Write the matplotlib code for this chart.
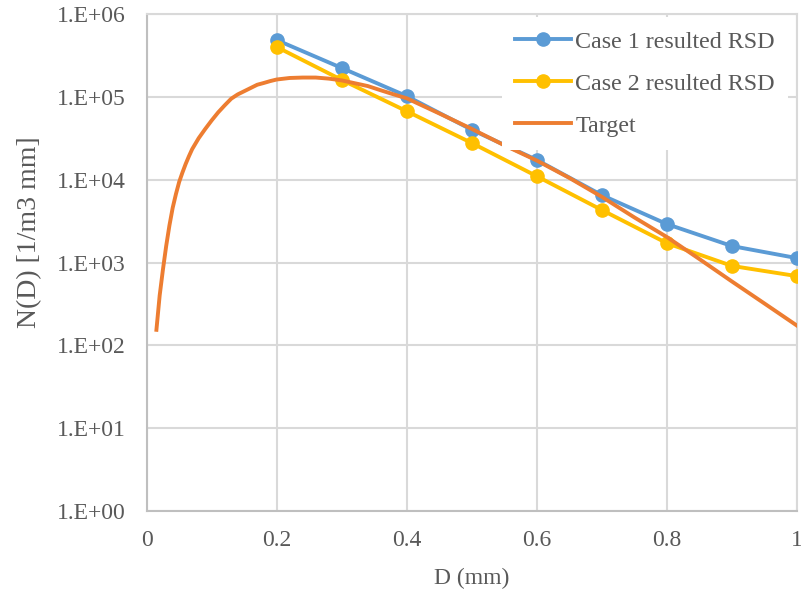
"""Resulted RSD of two cases against the target drop size distribution."""

import matplotlib

matplotlib.use("Agg")
import matplotlib.pyplot as plt
import numpy as np
from matplotlib.ticker import FixedLocator, FuncFormatter

# diameters of the two retrieved RSDs (mm)
d_case = [0.2, 0.3, 0.4, 0.5, 0.6, 0.7, 0.8, 0.9, 1.0]
n_case1 = [4.85e5, 2.23e5, 1.02e5, 4.0e4, 1.73e4, 6.5e3, 2.91e3, 1.58e3, 1.13e3]
n_case2 = [4.0e5, 1.6e5, 6.7e4, 2.77e4, 1.1e4, 4.3e3, 1.71e3, 9.1e2, 6.85e2]

# target distribution
d_target = [0.015, 0.02, 0.025, 0.03, 0.035, 0.04, 0.045, 0.05, 0.055, 0.06, 0.065,
            0.07, 0.08, 0.09, 0.10, 0.11, 0.12, 0.13, 0.14, 0.15, 0.16, 0.17,
            0.18, 0.19, 0.20, 0.22, 0.24, 0.26, 0.28, 0.30, 0.32, 0.34, 0.36,
            0.38, 0.40, 0.45, 0.50, 0.55, 0.60, 0.65, 0.70, 0.75, 0.80, 0.85,
            0.90, 0.95, 1.00]
n_target = [154, 400, 820, 1.58e3, 2.8e3, 4.57e3, 6.7e3, 9.4e3, 1.22e4, 1.55e4, 1.92e4,
            2.34e4, 3.17e4, 4.09e4, 5.2e4, 6.5e4, 7.9e4, 9.5e4, 1.07e5, 1.17e5, 1.28e5, 1.4e5,
            1.47e5, 1.55e5, 1.62e5, 1.69e5, 1.71e5, 1.71e5, 1.66e5, 1.58e5, 1.46e5, 1.35e5, 1.2e5,
            1.07e5, 9.6e4, 6.3e4, 4.1e4, 2.6e4, 1.7e4, 1.05e4, 6.2e3, 3.5e3, 2.03e3, 1.1e3,
            590, 320, 173]

x_ticks = [0, 0.2, 0.4, 0.6, 0.8, 1.0]
y_ticks = [1e0, 1e1, 1e2, 1e3, 1e4, 1e5, 1e6]

BLUE, YELLOW, ORANGE = "#5B9BD5", "#FFC000", "#ED7D31"
TEXT, GRID = "#595959", "#D9D9D9"

plt.rcParams["font.family"] = ["Liberation Serif", "DejaVu Serif"]

fig = plt.figure(figsize=(8.01, 5.94), dpi=100)
ax = fig.add_axes([0.1831, 0.1397, 0.8119, 0.8367])

ax.plot(d_case, n_case1, color=BLUE, lw=2.8, marker="o", ms=9.5, label="Case 1 resulted RSD", zorder=3)
ax.plot(d_case, n_case2, color=YELLOW, lw=2.8, marker="o", ms=9.5, label="Case 2 resulted RSD", zorder=3)
ax.plot(d_target, n_target, color=ORANGE, lw=2.8, label="Target", zorder=4)

ax.set_yscale("log")
ax.set_xlim(0, 1)
ax.set_ylim(1, 1e6)
ax.xaxis.set_major_locator(FixedLocator(x_ticks))
ax.yaxis.set_major_locator(FixedLocator(y_ticks))
ax.yaxis.set_minor_locator(FixedLocator([]))
ax.xaxis.set_major_formatter(FuncFormatter(lambda v, _: f"{v:g}"))
ax.yaxis.set_major_formatter(FuncFormatter(lambda v, _: f"1.E+{int(round(np.log10(v))):02d}"))

ax.grid(True, color=GRID, lw=1.5, zorder=0)
ax.set_axisbelow(True)
for side, spine in ax.spines.items():
    spine.set_color("#BFBFBF" if side in ("left", "bottom") else GRID)
    spine.set_linewidth(1.5)
ax.tick_params(length=0, labelsize=17, labelcolor=TEXT)
ax.tick_params(axis="y", pad=15)
ax.tick_params(axis="x", pad=14)

ax.set_xlabel("D (mm)", fontsize=17, color=TEXT, labelpad=12)
ax.set_ylabel("N(D) [1/m3 mm]", fontsize=20, color=TEXT)
ax.yaxis.set_label_coords(-0.16, 0.562)

leg = ax.legend(loc="upper right", bbox_to_anchor=(0.9866, 0.993), fontsize=17.3, frameon=True,
                fancybox=False, framealpha=1, edgecolor="none", facecolor="white",
                handlelength=2.3, handletextpad=0.2, labelspacing=0.84, borderpad=0.55,
                borderaxespad=0.0)
for text in leg.get_texts():
    text.set_color(TEXT)

fig.savefig("out.png", dpi=100)
